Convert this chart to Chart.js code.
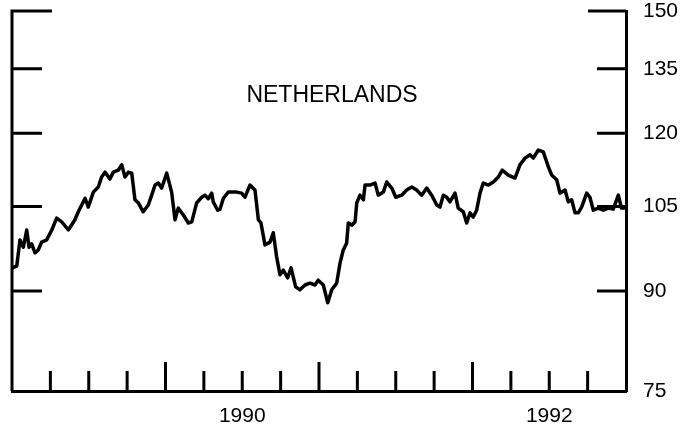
<!DOCTYPE html>
<html>
<head>
<meta charset="utf-8">
<title>Netherlands</title>
<script src="https://cdn.jsdelivr.net/npm/chart.js@4.4.1/dist/chart.umd.min.js"></script>
<style>
  html, body { margin: 0; padding: 0; background: #fff; }
  #wrap { width: 697px; height: 426px; }
</style>
</head>
<body>
<div id="wrap"><canvas id="chart" width="697" height="426"></canvas></div>
<script>
const dates = [
  1989.003, 1989.031, 1989.052, 1989.074, 1989.096, 1989.111, 1989.128, 1989.150, 1989.171, 1989.193,
  1989.226, 1989.259, 1989.291, 1989.324, 1989.367, 1989.410, 1989.432, 1989.476, 1989.497, 1989.530,
  1989.562, 1989.584, 1989.606, 1989.638, 1989.660, 1989.692, 1989.715, 1989.736, 1989.758, 1989.780,
  1989.801, 1989.823, 1989.855, 1989.888, 1989.910, 1989.932, 1989.953, 1989.975, 1990.008, 1990.040,
  1990.062, 1990.083, 1990.116, 1990.149, 1990.171, 1990.203, 1990.236, 1990.257, 1990.279, 1990.301,
  1990.311, 1990.340, 1990.355, 1990.377, 1990.409, 1990.442, 1990.464, 1990.496, 1990.518, 1990.550,
  1990.583, 1990.605, 1990.622, 1990.648, 1990.681, 1990.702, 1990.724, 1990.746, 1990.767, 1990.796,
  1990.818, 1990.848, 1990.876, 1990.909, 1990.941, 1990.974, 1990.995, 1991.028, 1991.057, 1991.083,
  1991.115, 1991.137, 1991.158, 1991.180, 1991.191, 1991.213, 1991.235, 1991.246, 1991.267, 1991.289,
  1991.300, 1991.332, 1991.365, 1991.386, 1991.419, 1991.441, 1991.474, 1991.500, 1991.539, 1991.571,
  1991.604, 1991.636, 1991.669, 1991.702, 1991.734, 1991.767, 1991.788, 1991.810, 1991.832, 1991.853,
  1991.886, 1991.907, 1991.940, 1991.962, 1991.984, 1992.005, 1992.027, 1992.049, 1992.070, 1992.103,
  1992.136, 1992.168, 1992.194, 1992.233, 1992.277, 1992.309, 1992.342, 1992.375, 1992.396, 1992.429,
  1992.461, 1992.494, 1992.516, 1992.549, 1992.570, 1992.603, 1992.624, 1992.646, 1992.668, 1992.689,
  1992.711, 1992.744, 1992.765, 1992.787, 1992.820, 1992.852, 1992.885, 1992.917, 1992.950, 1992.970,
  1992.993
];
const values = [
  93.9, 94.2, 98.8, 97.5, 100.6, 97.5, 98.1, 96.5, 97.0, 98.4,
  98.8, 100.6, 102.8, 102.1, 100.6, 102.5, 104.0, 106.6, 104.9, 107.8,
  108.8, 110.8, 111.8, 110.4, 111.8, 112.2, 113.3, 110.8, 111.8, 111.6,
  106.3, 105.7, 104.0, 105.3, 107.2, 109.2, 109.6, 108.6, 111.6, 107.8,
  102.5, 104.7, 103.4, 101.9, 102.1, 105.7, 106.8, 107.2, 106.5, 107.6,
  105.9, 104.3, 104.5, 106.6, 107.8, 107.8, 107.8, 107.6, 106.8, 109.2,
  108.2, 102.5, 101.9, 97.9, 98.4, 100.1, 95.8, 92.7, 93.5, 92.2,
  93.9, 90.7, 90.2, 91.0, 91.3, 91.0, 91.8, 91.0, 88.1, 90.2,
  91.3, 94.7, 97.0, 98.2, 101.9, 101.5, 102.1, 105.7, 107.2, 106.3,
  109.2, 109.2, 109.6, 107.2, 107.8, 109.8, 108.6, 106.8, 107.2, 108.2,
  108.8, 108.2, 107.2, 108.6, 107.2, 105.3, 104.9, 107.2, 106.8, 105.9,
  107.6, 104.7, 104.0, 101.9, 103.8, 103.0, 104.3, 107.6, 109.6, 109.2,
  109.8, 110.8, 112.2, 111.2, 110.6, 113.3, 114.7, 115.4, 114.7, 116.4,
  116.0, 112.9, 111.2, 110.2, 107.6, 108.2, 105.9, 106.3, 103.8, 103.8,
  104.9, 107.6, 106.8, 104.3, 104.7, 104.3, 104.7, 104.5, 107.2, 104.7,
  104.7
];
const yTicks = [75, 90, 105, 120, 135, 150];
const quarterTicks = [1989.25, 1989.5, 1989.75, 1990, 1990.25, 1990.5, 1990.75, 1991,
                      1991.25, 1991.5, 1991.75, 1992, 1992.25, 1992.5, 1992.75];
const yearLabels = ['1990', '1992'];
const yearLabelAt = [1990.5, 1992.5];
const title = 'NETHERLANDS';

const FONT = '"Liberation Sans", Arial, Helvetica, sans-serif';

// Frame pieces the library doesn't draw: left edge, inward ticks, the panel title
const frame = {
  id: 'frame',
  afterDatasetsDraw(chart) {
    const { ctx, chartArea: a, scales: { x, y } } = chart;
    ctx.save();
    ctx.strokeStyle = '#000';
    ctx.lineWidth = 3;
    ctx.lineCap = 'butt';
    ctx.beginPath();
    ctx.moveTo(a.left, a.top - 1.5);
    ctx.lineTo(a.left, a.bottom);
    yTicks.forEach(v => {
      if (v === yTicks[0]) return;
      const py = y.getPixelForValue(v);
      const top = v === yTicks[yTicks.length - 1];
      ctx.moveTo(a.left, py);
      ctx.lineTo(a.left + (top ? 40 : 30), py);
      ctx.moveTo(a.right - (top ? 38 : 29), py);
      ctx.lineTo(a.right, py);
    });
    quarterTicks.forEach(t => {
      const px = x.getPixelForValue(t);
      const len = Number.isInteger(t) ? 29 : 20;
      ctx.moveTo(px, a.bottom);
      ctx.lineTo(px, a.bottom - len);
    });
    ctx.stroke();

    ctx.fillStyle = '#000';
    ctx.font = '23px ' + FONT;
    ctx.textAlign = 'center';
    ctx.textBaseline = 'middle';
    ctx.fillText(title, x.getPixelForValue(1991.085), y.getPixelForValue(128.5));
    ctx.restore();
  }
};

new Chart(document.getElementById('chart'), {
  type: 'line',
  data: {
    datasets: [{
      data: dates.map((d, i) => ({ x: d, y: values[i] })),
      borderColor: '#000',
      borderWidth: 3.5,
      borderJoinStyle: 'round',
      borderCapStyle: 'round',
      pointRadius: 0,
      tension: 0,
      fill: false
    }]
  },
  options: {
    responsive: false,
    animation: false,
    layout: { padding: { left: 12, top: 11, right: 0, bottom: 0 } },
    plugins: {
      legend: { display: false },
      tooltip: { enabled: false }
    },
    scales: {
      x: {
        type: 'linear',
        min: 1989,
        max: 1993,
        afterBuildTicks: s => { s.ticks = quarterTicks.map(v => ({ value: v })); },
        afterFit: s => { s.height = 35; s.paddingLeft = 0; s.paddingRight = 0; },
        grid: { display: false, drawTicks: false },
        border: { display: true, color: '#000', width: 3 },
        ticks: {
          autoSkip: false,
          maxRotation: 0,
          padding: 13,
          color: '#000',
          font: { family: FONT, size: 21 },
          callback: v => {
            const i = yearLabelAt.indexOf(v);
            return i >= 0 ? yearLabels[i] : '';
          }
        }
      },
      y: {
        type: 'logarithmic',
        position: 'right',
        min: 75,
        max: 150,
        afterBuildTicks: s => { s.ticks = yTicks.map(v => ({ value: v })); },
        afterFit: s => { s.width = 71; s.paddingTop = 0; s.paddingBottom = 0; },
        grid: { display: false, drawTicks: false },
        border: { display: true, color: '#000', width: 3 },
        ticks: {
          padding: 17,
          color: '#000',
          font: { family: FONT, size: 21 },
          callback: v => String(v)
        }
      }
    }
  },
  plugins: [frame]
});
</script>
</body>
</html>
